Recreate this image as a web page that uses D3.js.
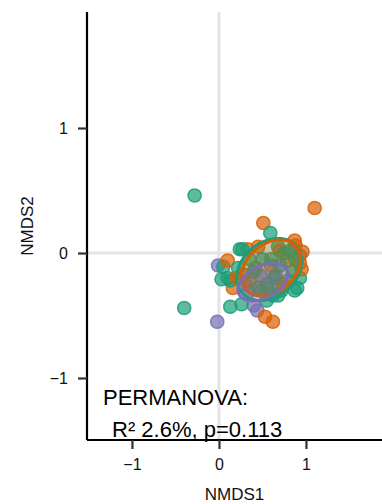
<!DOCTYPE html>
<html>
<head>
<meta charset="utf-8">
<script src="https://cdn.jsdelivr.net/npm/d3@7"></script>
<style>
  body { margin: 0; background: #fff; }
  text { font-family: "Liberation Sans", Arial, sans-serif; }
</style>
</head>
<body>
<div id="viz"></div>
<script>
// NMDS scores, one array per group
const groups = ["A", "B", "C"];
const colors = ["#1b9e77", "#d95f02", "#7570b3"];

const pointsA = [
    [-0.28, 0.46], [-0.40, -0.44], [0.59, 0.16], [0.24, 0.03], [0.27, 0.03], [0.68, 0.05],
    [0.05, -0.11], [0.22, -0.12], [0.03, -0.21], [0.13, -0.22], [0.10, -0.20], [0.93, -0.20],
    [0.90, -0.28], [0.26, -0.41], [0.13, -0.43], [0.55, -0.38], [0.62, -0.34], [0.68, -0.34],
    [0.72, -0.30], [0.80, -0.22], [0.85, -0.15], [0.88, -0.05], [0.50, -0.05], [0.40, -0.15],
    [0.45, -0.28], [0.60, -0.05], [0.70, -0.10], [0.75, 0.00], [0.35, -0.05], [0.56, -0.28],
    [0.64, -0.20], [0.82, 0.02], [0.87, -0.30]
];
const pointsB = [
    [1.10, 0.36], [0.51, 0.24], [0.33, 0.03], [0.45, 0.05], [0.87, 0.10], [0.88, 0.06],
    [0.96, 0.01], [0.10, -0.06], [0.16, -0.28], [0.28, -0.17], [0.53, -0.51], [0.62, -0.55],
    [0.95, -0.13], [0.93, -0.08], [0.35, -0.22], [0.60, -0.10], [0.70, 0.02], [0.78, -0.06],
    [0.48, -0.30], [0.42, -0.12], [0.20, -0.20], [0.73, -0.25]
];
const pointsC = [
    [-0.01, -0.10], [-0.02, -0.55], [0.93, -0.02], [0.44, -0.46], [0.34, -0.31], [0.40, -0.42],
    [0.55, -0.25], [0.30, -0.25], [0.65, -0.18], [0.48, -0.18]
];

// ellipse per group: centre and two half-axis vectors, in NMDS units
const ellipseCentre = [[0.578, -0.132], [0.598, -0.12], [0.506, -0.232]];
const ellipseAxisU = [[0.317, 0.185], [0.291, 0.170], [0.274, 0.101]];
const ellipseAxisV = [[0.200, -0.166], [0.177, -0.147], [0.086, -0.113]];

const xTicks = [-1, 0, 1];
const yTicks = [-1, 0, 1];
const statLines = ["PERMANOVA:", "R\u00b2 2.6%, p=0.113"];

const width = 382, height = 504;
const margin = { top: 12, right: 0, bottom: 64, left: 87 };

const svg = d3.select("#viz").append("svg")
    .attr("width", width)
    .attr("height", height);

const x = d3.scaleLinear()
    .domain([-1.517, 1.874])
    .range([margin.left, width - margin.right]);
const y = d3.scaleLinear()
    .domain([-1.496, 1.928])
    .range([height - margin.bottom, margin.top]);

// zero lines
svg.append("line")
    .attr("x1", x(0)).attr("x2", x(0))
    .attr("y1", margin.top).attr("y2", height - margin.bottom)
    .attr("stroke", "#e3e3e3").attr("stroke-width", 3);
svg.append("line")
    .attr("x1", margin.left).attr("x2", width - margin.right)
    .attr("y1", y(0)).attr("y2", y(0))
    .attr("stroke", "#e3e3e3").attr("stroke-width", 3);

// points, interleaved so no group sits entirely on top
const allPoints = [];
[pointsC, pointsB, pointsA].forEach((pts, k) => {
    const g = 2 - k;
    pts.forEach((p, i) => allPoints.push({ x: p[0], y: p[1], g: g, o: i + k * 0.3 }));
});
allPoints.sort((a, b) => a.o - b.o);

svg.append("g").selectAll("circle")
    .data(allPoints)
    .enter()
    .append("circle")
    .attr("cx", d => x(d.x))
    .attr("cy", d => y(d.y))
    .attr("r", 6.6)
    .attr("fill", d => colors[d.g])
    .attr("fill-opacity", 0.7)
    .attr("stroke", d => colors[d.g])
    .attr("stroke-opacity", 0.85)
    .attr("stroke-width", 1.5);

// ellipses
const line = d3.line().x(d => x(d[0])).y(d => y(d[1]));
const steps = d3.range(0, 101).map(i => i / 100 * 2 * Math.PI);
groups.forEach((g, i) => {
    const c = ellipseCentre[i], u = ellipseAxisU[i], v = ellipseAxisV[i];
    const pts = steps.map(t => [
        c[0] + Math.cos(t) * u[0] + Math.sin(t) * v[0],
        c[1] + Math.cos(t) * u[1] + Math.sin(t) * v[1]
    ]);
    svg.append("path")
        .attr("d", line(pts) + "Z")
        .attr("fill", colors[i])
        .attr("fill-opacity", 0.25)
        .attr("stroke", colors[i])
        .attr("stroke-width", 3);
});

// axes
const xAxis = svg.append("g")
    .attr("transform", `translate(0, ${height - margin.bottom})`)
    .call(d3.axisBottom(x).tickValues(xTicks).tickSize(9).tickPadding(10)
        .tickFormat(d => d < 0 ? "\u2212" + Math.abs(d) : d));
const yAxis = svg.append("g")
    .attr("transform", `translate(${margin.left}, 0)`)
    .call(d3.axisLeft(y).tickValues(yTicks).tickSize(9).tickPadding(10)
        .tickFormat(d => d < 0 ? "\u2212" + Math.abs(d) : d));

[xAxis, yAxis].forEach(a => {
    a.select(".domain").attr("stroke", "#000").attr("stroke-width", 2.2);
    a.selectAll(".tick line").attr("stroke", "#333").attr("stroke-width", 2.2);
    a.selectAll(".tick text")
        .attr("fill", "#111")
        .style("font-size", "16px")
        .style("font-family", "'Liberation Sans', Arial, sans-serif");
});
yAxis.select(".domain").attr("d", `M0,${margin.top}V${height - margin.bottom}`);
xAxis.select(".domain").attr("d", `M${margin.left},0H${width}`);

// axis titles
svg.append("text")
    .attr("x", (margin.left + width) / 2)
    .attr("y", 500)
    .attr("text-anchor", "middle")
    .style("font-size", "17px")
    .attr("fill", "#111")
    .text("NMDS1");
svg.append("text")
    .attr("transform", `translate(33, ${(margin.top + height - margin.bottom) / 2}) rotate(-90)`)
    .attr("text-anchor", "middle")
    .style("font-size", "17px")
    .attr("fill", "#111")
    .text("NMDS2");

// PERMANOVA result
svg.append("text")
    .attr("x", 103).attr("y", 405)
    .style("font-size", "22px")
    .attr("fill", "#000")
    .text(statLines[0]);
svg.append("text")
    .attr("x", 112).attr("y", 437)
    .style("font-size", "22px")
    .attr("fill", "#000")
    .text(statLines[1]);
</script>
</body>
</html>
